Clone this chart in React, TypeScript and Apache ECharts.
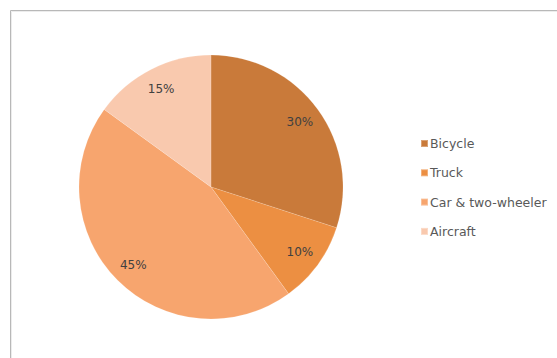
import React, { useEffect, useRef } from "react";
import * as echarts from "echarts";

const categories = ["Bicycle", "Truck", "Car & two-wheeler", "Aircraft"];
const shares = [30, 10, 45, 15];
const colors = ["#C97A3A", "#EC8F42", "#F7A56E", "#F9C9AE"];

export default function App() {
  const ref = useRef<HTMLDivElement>(null);
  useEffect(() => {
    document.body.style.margin = "0";
    const chart = echarts.init(ref.current!, null, { renderer: "svg" });
    const data = categories.map((name, i) => ({
      name,
      value: shares[i],
      itemStyle: { color: colors[i] },
    }));
    const R = 132;
    chart.setOption({
      animation: false,
      backgroundColor: "#ffffff",
      textStyle: { fontFamily: "DejaVu Sans, sans-serif" },
      graphic: [
        {
          type: "rect",
          shape: { x: 10.5, y: 10.5, width: 700, height: 500 },
          style: { fill: "none", stroke: "#b8b8b8", lineWidth: 1 },
          silent: true,
        },
        {
          type: "rect",
          shape: { x: 11.5, y: 11.5, width: 700, height: 500 },
          style: { fill: "none", stroke: "#ececec", lineWidth: 1 },
          silent: true,
        },
      ],
      legend: {
        orient: "vertical",
        left: 415,
        top: 132,
        icon: "rect",
        itemWidth: 7,
        itemHeight: 7,
        itemGap: 16.3,
        data: categories,
        textStyle: { color: "#595959", fontSize: 12.5, padding: [0, 0, 0, -3] },
      },
      series: [
        {
          type: "pie",
          center: [211, 187],
          radius: [0, R],
          startAngle: 90,
          clockwise: true,
          label: { show: false },
          labelLine: { show: false },
          itemStyle: { borderColor: "rgba(255,255,255,0.3)", borderWidth: 0.5 },
          emphasis: { disabled: true },
          data,
        },
        {
          type: "pie",
          center: [211, 187],
          radius: [R * 0.62, R],
          startAngle: 90,
          clockwise: true,
          silent: true,
          itemStyle: { color: "rgba(0,0,0,0)" },
          label: {
            show: true,
            position: "inside",
            formatter: (p: any) => p.value + "%",
            color: "#404040",
            fontSize: 12,
          },
          labelLine: { show: false },
          emphasis: { disabled: true },
          data: categories.map((name, i) => ({ name, value: shares[i] })),
        },
      ],
    });
    return () => chart.dispose();
  }, []);
  return <div ref={ref} style={{ width: 557, height: 358 }} />;
}
